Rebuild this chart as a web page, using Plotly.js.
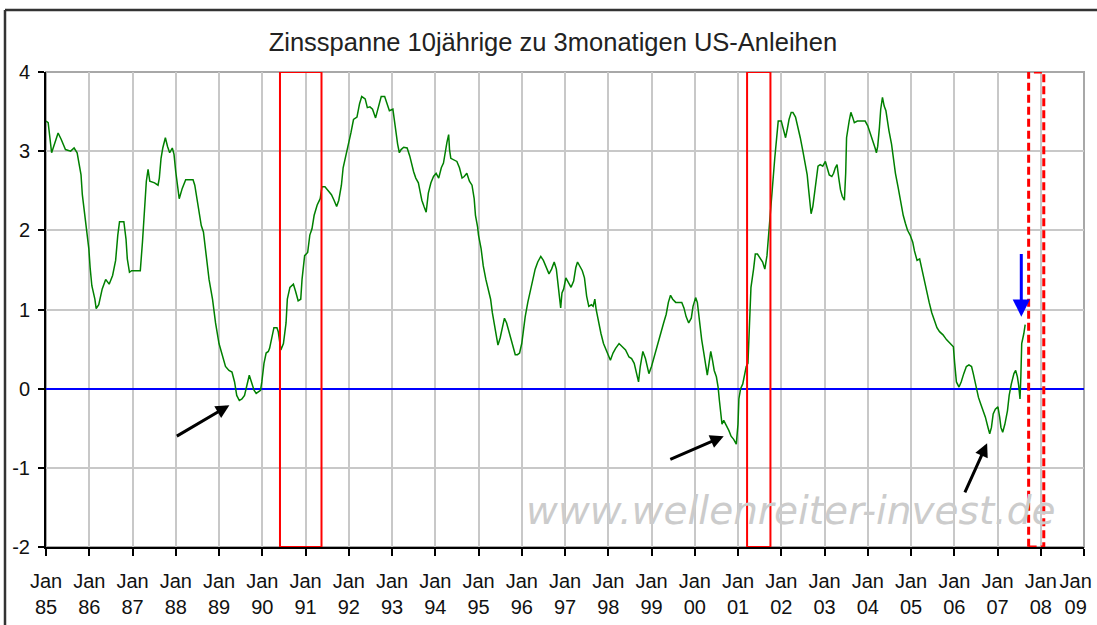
<!DOCTYPE html>
<html>
<head>
<meta charset="utf-8">
<script src="https://cdn.plot.ly/plotly-3.0.1.min.js"></script>
<style>
html,body{margin:0;padding:0;background:#fff;}
#chart{width:1097px;height:625px;}
</style>
</head>
<body>
<div id="chart"></div>
<script>
// Time in decimal years, spread in percentage points (10y minus 3m US Treasury)
const years = [
1985.00,1985.05,1985.13,1985.20,1985.28,1985.35,1985.45,1985.57,1985.65,1985.72,1985.76,1985.81,1985.84,1985.89,1985.93,1985.99,
1986.02,1986.06,1986.13,1986.16,1986.22,1986.30,1986.38,1986.46,1986.54,1986.61,1986.66,1986.70,1986.80,1986.85,1986.88,1986.93,1986.98,
1987.18,1987.23,1987.29,1987.32,1987.36,1987.40,1987.51,1987.59,1987.62,1987.66,1987.70,1987.76,1987.81,1987.86,1987.92,1987.96,
1988.00,1988.08,1988.15,1988.23,1988.32,1988.40,1988.44,1988.51,1988.59,1988.64,1988.70,1988.77,1988.85,1988.92,
1989.00,1989.08,1989.15,1989.23,1989.30,1989.36,1989.41,1989.47,1989.53,1989.59,1989.64,1989.70,1989.75,1989.81,1989.86,1989.96,1989.99,
1990.04,1990.09,1990.14,1990.17,1990.22,1990.27,1990.34,1990.37,1990.43,1990.49,1990.55,1990.58,1990.64,1990.72,1990.77,1990.83,1990.89,1990.92,1990.98,
1991.05,1991.10,1991.15,1991.20,1991.27,1991.34,1991.38,1991.45,1991.53,1991.60,1991.66,1991.72,1991.77,1991.83,1991.87,1991.92,
1992.00,1992.05,1992.11,1992.19,1992.25,1992.30,1992.38,1992.43,1992.49,1992.55,1992.62,1992.68,1992.75,1992.83,1992.88,1992.94,
1993.02,1993.06,1993.09,1993.13,1993.17,1993.21,1993.27,1993.35,1993.41,1993.45,1993.50,1993.55,1993.61,1993.65,1993.69,1993.74,1993.79,1993.84,1993.90,1993.96,
1994.02,1994.08,1994.14,1994.19,1994.23,1994.27,1994.31,1994.33,1994.36,1994.42,1994.50,1994.56,1994.62,1994.67,1994.73,1994.79,1994.85,1994.90,1994.93,1994.98,
1995.00,1995.06,1995.11,1995.17,1995.23,1995.28,1995.32,1995.36,1995.41,1995.45,1995.50,1995.56,1995.60,1995.65,1995.70,1995.75,1995.80,1995.85,1995.90,1995.95,
1996.00,1996.04,1996.08,1996.14,1996.20,1996.25,1996.31,1996.37,1996.44,1996.50,1996.56,1996.63,1996.69,1996.75,1996.80,1996.84,1996.88,1996.90,1996.93,1996.97,
1997.02,1997.08,1997.14,1997.20,1997.25,1997.29,1997.34,1997.40,1997.45,1997.50,1997.55,1997.61,1997.65,1997.69,1997.72,1997.78,1997.83,1997.89,1997.95,
1998.00,1998.05,1998.11,1998.17,1998.25,1998.32,1998.40,1998.48,1998.54,1998.60,1998.66,1998.70,1998.74,1998.80,1998.86,1998.90,1998.94,
1999.00,1999.05,1999.11,1999.17,1999.23,1999.28,1999.34,1999.39,1999.44,1999.49,1999.56,1999.64,1999.70,1999.75,1999.80,1999.86,1999.92,1999.96,
2000.02,2000.06,2000.11,2000.16,2000.21,2000.25,2000.29,2000.33,2000.37,2000.41,2000.45,2000.50,2000.54,2000.57,2000.60,2000.63,2000.67,2000.72,2000.79,2000.84,2000.90,2000.96,
2001.00,2001.02,2001.06,2001.11,2001.15,2001.19,2001.23,2001.25,2001.27,2001.30,2001.36,2001.40,2001.45,2001.51,2001.57,2001.62,2001.67,2001.70,2001.73,2001.79,2001.85,2001.89,2001.93,
2002.00,2002.05,2002.10,2002.14,2002.18,2002.23,2002.27,2002.33,2002.38,2002.44,2002.50,2002.56,2002.60,2002.63,2002.66,2002.69,2002.73,2002.77,2002.81,2002.85,2002.90,2002.96,
2003.02,2003.06,2003.11,2003.17,2003.21,2003.25,2003.29,2003.33,2003.37,2003.41,2003.46,2003.49,2003.51,2003.57,2003.61,2003.65,2003.69,2003.76,2003.84,2003.94,
2004.00,2004.06,2004.11,2004.17,2004.20,2004.23,2004.27,2004.30,2004.34,2004.38,2004.42,2004.45,2004.49,2004.55,2004.59,2004.64,2004.70,2004.76,2004.82,2004.87,2004.92,2004.98,
2005.04,2005.08,2005.14,2005.20,2005.25,2005.30,2005.36,2005.42,2005.48,2005.54,2005.60,2005.66,2005.74,2005.82,2005.90,2005.98,
2006.01,2006.05,2006.11,2006.16,2006.22,2006.28,2006.34,2006.40,2006.44,2006.50,2006.56,2006.61,2006.67,2006.72,2006.78,2006.82,2006.86,2006.90,2006.95,
2007.01,2007.05,2007.08,2007.12,2007.17,2007.23,2007.27,2007.32,2007.38,2007.42,2007.46,2007.49,2007.52,2007.54,2007.56,2007.61,2007.64
];
const spread = [
3.38,3.36,2.98,3.10,3.23,3.15,3.02,3.00,3.04,2.98,2.87,2.70,2.45,2.23,2.02,1.77,
1.53,1.30,1.13,1.01,1.06,1.26,1.38,1.32,1.43,1.62,1.94,2.11,2.11,1.89,1.64,1.47,1.49,
1.49,1.85,2.36,2.62,2.77,2.62,2.60,2.57,2.66,2.91,3.04,3.17,3.06,2.98,3.04,2.96,
2.74,2.40,2.53,2.64,2.64,2.64,2.57,2.32,2.06,1.98,1.68,1.38,1.13,0.83,
0.57,0.40,0.28,0.23,0.21,0.085,-0.085,-0.15,-0.13,-0.085,0.02,0.17,0.085,-0.02,-0.06,-0.02,0.085,
0.32,0.45,0.47,0.51,0.66,0.77,0.77,0.72,0.49,0.57,0.83,1.13,1.28,1.32,1.23,1.11,1.13,1.38,1.68,
1.72,1.94,2.02,2.19,2.32,2.40,2.55,2.55,2.49,2.45,2.38,2.30,2.38,2.57,2.79,2.91,
3.09,3.23,3.40,3.43,3.60,3.69,3.66,3.55,3.56,3.53,3.42,3.53,3.69,3.69,3.60,3.51,
3.53,3.38,3.21,3.09,2.98,3.02,3.05,3.04,2.94,2.83,2.74,2.66,2.60,2.49,2.38,2.30,2.23,2.47,2.60,2.68,
2.72,2.66,2.79,2.85,3.00,3.11,3.21,3.02,2.91,2.89,2.87,2.79,2.66,2.68,2.72,2.62,2.57,2.40,2.19,2.04,
1.94,1.77,1.55,1.38,1.23,1.13,0.96,0.83,0.66,0.55,0.64,0.81,0.89,0.83,0.74,0.64,0.53,0.43,0.43,0.45,
0.57,0.74,0.91,1.09,1.23,1.38,1.51,1.60,1.67,1.62,1.53,1.45,1.51,1.60,1.51,1.34,1.13,1.02,1.21,1.26,
1.40,1.34,1.28,1.36,1.53,1.60,1.55,1.49,1.40,1.17,1.04,1.06,1.04,1.13,1.00,0.83,0.70,0.57,0.49,
0.43,0.36,0.45,0.51,0.57,0.53,0.49,0.40,0.38,0.32,0.19,0.085,0.28,0.47,0.38,0.28,0.19,
0.28,0.38,0.51,0.64,0.74,0.83,0.94,1.09,1.18,1.13,1.09,1.09,1.09,1.02,0.91,0.83,0.89,1.04,
1.15,1.09,0.83,0.62,0.45,0.32,0.17,0.32,0.47,0.36,0.23,0.15,0.02,-0.15,-0.32,-0.45,-0.40,-0.45,-0.53,-0.60,-0.64,-0.70,
-0.45,-0.13,0.00,0.06,0.17,0.28,0.32,0.57,0.96,1.28,1.51,1.70,1.70,1.64,1.60,1.51,1.68,1.89,2.13,2.50,2.91,3.21,3.38,
3.38,3.28,3.17,3.28,3.40,3.49,3.49,3.43,3.32,3.17,3.00,2.83,2.70,2.53,2.38,2.21,2.30,2.47,2.66,2.81,2.83,2.81,
2.87,2.79,2.70,2.68,2.72,2.79,2.83,2.66,2.51,2.43,2.38,2.72,3.17,3.38,3.49,3.43,3.36,3.38,3.38,3.38,
3.32,3.23,3.15,3.04,2.98,3.06,3.30,3.53,3.68,3.57,3.51,3.38,3.26,3.09,2.91,2.72,2.55,2.36,2.19,2.09,2.00,1.94,
1.85,1.74,1.62,1.64,1.51,1.40,1.26,1.09,0.96,0.85,0.77,0.72,0.68,0.62,0.57,0.53,
0.32,0.085,0.02,0.085,0.19,0.28,0.30,0.28,0.19,0.02,-0.11,-0.19,-0.28,-0.36,-0.49,-0.57,-0.49,-0.32,-0.26,
-0.23,-0.36,-0.49,-0.55,-0.45,-0.28,-0.085,0.06,0.19,0.23,0.15,0.04,-0.13,0.15,0.57,0.70,0.81
];

// Axis ticks
const tickYears = [1985,1986,1987,1988,1989,1990,1991,1992,1993,1994,1995,1996,1997,1998,1999,2000,2001,2002,2003,2004,2005,2006,2007,2008,2009];
const tickLabels = ["Jan<br>85","Jan<br>86","Jan<br>87","Jan<br>88","Jan<br>89","Jan<br>90","Jan<br>91","Jan<br>92","Jan<br>93","Jan<br>94","Jan<br>95","Jan<br>96","Jan<br>97","Jan<br>98","Jan<br>99","Jan<br>00","Jan<br>01","Jan<br>02","Jan<br>03","Jan<br>04","Jan<br>05","Jan<br>06","Jan<br>07","Jan<br>08","Jan<br>09"];
const yTickVals = [-2,-1,0,1,2,3,4];
const yTickLabels = ["-2","-1","0","1","2","3","4"];

// Marked periods (recessions) and forecast window
const recessions = [[1990.41, 1991.37], [2001.21, 2001.75]];
const forecastWindow = [2007.72, 2008.07];

const FONT = "Liberation Sans, Arial, sans-serif";

// the last x label sits at the chart's right edge; pull it slightly inward like the original
const xTickText = tickLabels.map((t, i) => i === tickLabels.length - 1
  ? t.replace("<br>", "\u00a0\u00a0\u00a0<br>") + "\u00a0\u00a0\u00a0" : t);

const shapes = [];
recessions.forEach(r => shapes.push({
  type: "rect", xref: "x", yref: "y", x0: r[0], x1: r[1], y0: -2, y1: 4,
  line: {color: "#ff0000", width: 2}, fillcolor: "rgba(0,0,0,0)", layer: "above"
}));
shapes.push({
  type: "rect", xref: "x", yref: "y", x0: forecastWindow[0], x1: forecastWindow[1], y0: -2, y1: 4,
  line: {color: "#ff0000", width: 3, dash: "8px,4px"}, fillcolor: "rgba(0,0,0,0)", layer: "above"
});
// gray plot border (top/right)
shapes.push({type: "rect", xref: "paper", yref: "paper", x0: 0, x1: 1, y0: 0, y1: 1,
  line: {color: "#a8a8a8", width: 2}, layer: "below"});
// outer chart frame (top & left)
shapes.push({type: "line", xref: "paper", yref: "paper", x0: -0.0395, x1: 1.02, y0: 1.1305, y1: 1.1305,
  line: {color: "#333333", width: 2.5}});
shapes.push({type: "line", xref: "paper", yref: "paper", x0: -0.0395, x1: -0.0395, y0: 1.1305, y1: -0.18,
  line: {color: "#333333", width: 2.5}});

function arrow(xTip, yTip, xTail, yTail, color, width, size) {
  return {x: xTip, y: yTip, ax: xTail, ay: yTail, xref: "x", yref: "y", axref: "x", ayref: "y",
    text: "", showarrow: true, arrowhead: 2, arrowsize: size, arrowwidth: width, arrowcolor: color, standoff: 0};
}

const annotations = [
  arrow(1989.24, -0.21, 1987.99, -0.61, "#000000", 3, 0.9),
  arrow(2000.67, -0.60, 1999.40, -0.90, "#000000", 3, 0.9),
  arrow(2006.76, -0.69, 2006.23, -1.33, "#000000", 3, 0.9),
  arrow(2007.55, 0.91, 2007.55, 1.72, "#0000ff", 3, 1.15),
  {text: "www.wellenreiter-invest.de", xref: "paper", yref: "paper", x: 0.717, y: 0.076,
   xanchor: "center", yanchor: "middle", showarrow: false,
   font: {family: "DejaVu Sans, sans-serif", size: 39, color: "#cccccc", style: "italic"}}
];

const trace = {
  x: years, y: spread, type: "scatter", mode: "lines",
  line: {color: "#008000", width: 1.5}, hoverinfo: "skip"
};

const layout = {
  width: 1097, height: 625,
  margin: {l: 46, r: 13, t: 72, b: 78},
  paper_bgcolor: "#ffffff", plot_bgcolor: "#ffffff",
  showlegend: false,
  title: {text: "Zinsspanne 10jährige zu 3monatigen US-Anleihen",
    font: {family: FONT, size: 25.5, color: "#222222"},
    xref: "container", yref: "container", x: 0.504, y: 0.933, xanchor: "center", yanchor: "middle"},
  xaxis: {
    range: [1985, 2009], tickmode: "array", tickvals: tickYears, ticktext: xTickText,
    showgrid: true, gridcolor: "#c8c8c8", gridwidth: 2,
    showline: true, linecolor: "#000000", linewidth: 2,
    ticks: "outside", ticklen: 7, tickwidth: 2, tickcolor: "#000000",
    ticklabelstandoff: 8, ticklabeloverflow: "allow",
    tickfont: {family: FONT, size: 20, color: "#111111"},
    zeroline: false, fixedrange: true
  },
  yaxis: {
    range: [-2, 4], tickmode: "array", tickvals: yTickVals, ticktext: yTickLabels,
    showgrid: true, gridcolor: "#c8c8c8", gridwidth: 2,
    showline: true, linecolor: "#000000", linewidth: 2,
    ticks: "outside", ticklen: 6, tickwidth: 2, tickcolor: "#000000",
    ticklabelstandoff: 4,
    tickfont: {family: FONT, size: 20, color: "#111111"},
    zeroline: true, zerolinecolor: "#0000ff", zerolinewidth: 2, fixedrange: true
  },
  shapes: shapes,
  annotations: annotations
};

Plotly.newPlot("chart", [trace], layout, {staticPlot: true, displayModeBar: false});
</script>
</body>
</html>
